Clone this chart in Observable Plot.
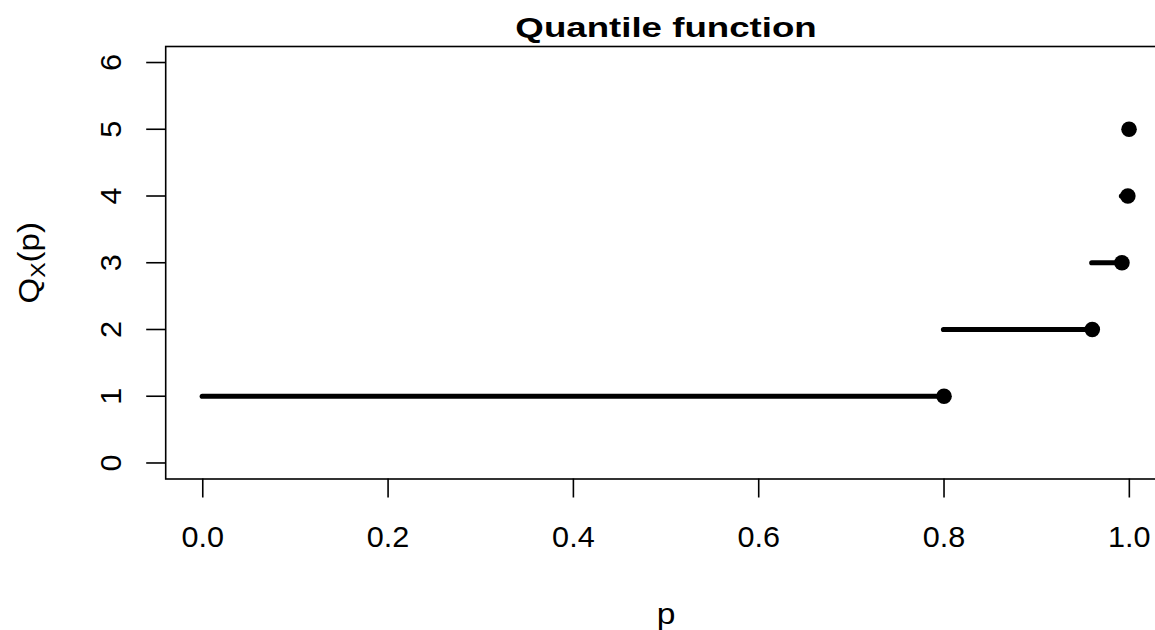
<!DOCTYPE html>
<html><head><meta charset="utf-8">
<script src="https://cdn.jsdelivr.net/npm/d3@7"></script>
<script src="https://cdn.jsdelivr.net/npm/@observablehq/plot@0.6"></script>
<style>html,body{margin:0;padding:0;background:#fff;overflow:hidden}</style>
</head><body><div id="chart"></div>
<script>
const pStart = [0, 0.8, 0.96, 0.992, 0.9984];
const pEnd = [0.8, 0.96, 0.992, 0.9984, 0.99968];
const quantile = [1, 2, 3, 4, 5];
const xTicks = [0, 0.2, 0.4, 0.6, 0.8, 1.0];
const yTicks = [0, 1, 2, 3, 4, 5, 6];
const xDomain = [-0.04, 1.04];
const yDomain = [-0.24, 6.24];
const titleText = "Quantile function";
const xLabel = "p";
const yLabelParts = ["Q", "X", "(p)"];

const steps = quantile.map((q, i) => ({q, from: pStart[i], to: pEnd[i]}));
const FONT = '"Liberation Sans", Arial, Helvetica, sans-serif';

const chart = Plot.plot({
  width: 1155, height: 630,
  marginLeft: 165.2, marginRight: -10.9, marginTop: 46, marginBottom: 151.5,
  style: {fontFamily: FONT, background: "white", overflow: "hidden", color: "black"},
  x: {domain: xDomain},
  y: {domain: yDomain},
  marks: [
    Plot.frame({stroke: "black", strokeWidth: 1.6}),
    Plot.axisX(xTicks, {tickSize: 19, tickPadding: 28, fontSize: 30, tickFormat: d => d.toFixed(1), strokeWidth: 1.6, label: null}),
    Plot.axisY(yTicks, {tickSize: 19, tickPadding: 26, tickRotate: -90, fontSize: 30, tickFormat: d => String(d), strokeWidth: 1.6, label: null}),
    Plot.ruleY(steps, {y: "q", x1: "from", x2: "to", stroke: "black", strokeWidth: 5.2, strokeLinecap: "round"}),
    Plot.dot(steps, {x: "to", y: "q", r: 7.8, fill: "black", stroke: null}),
    Plot.text([titleText], {frameAnchor: "top", dy: -10, lineAnchor: "bottom", fontSize: 28, fontWeight: "bold", fill: "black"}),
    Plot.text([xLabel], {frameAnchor: "bottom", dy: 145, lineAnchor: "bottom", fontSize: 30, fill: "black"}),
    Plot.text([yLabelParts.join("")], {frameAnchor: "left", dx: -127, rotate: -90, textAnchor: "middle", lineAnchor: "bottom", fontSize: 30, fill: "black"})
  ]
});
document.getElementById("chart").appendChild(chart);

const NS = "http://www.w3.org/2000/svg";
const yLabelText = yLabelParts.join("");
const widen = {[titleText]: 1.31, [xLabel]: 1.12, [yLabelText]: 1.1};
chart.querySelectorAll("text").forEach(el => {
  const content = el.textContent;
  const s = widen[content] || 1.02;
  const t = el.getAttribute("transform") || "";
  el.setAttribute("transform", (t + ` scale(${s},1)`).trim());
  if (content === yLabelText) {
    el.textContent = "";
    const t1 = document.createElementNS(NS, "tspan"); t1.textContent = yLabelParts[0];
    const t2 = document.createElementNS(NS, "tspan"); t2.textContent = yLabelParts[1];
    t2.setAttribute("font-size", "70%"); t2.setAttribute("dy", "0.3em");
    const t3 = document.createElementNS(NS, "tspan"); t3.textContent = yLabelParts[2];
    t3.setAttribute("dy", "-0.21em");
    el.append(t1, t2, t3);
  }
});
</script>
</body></html>
